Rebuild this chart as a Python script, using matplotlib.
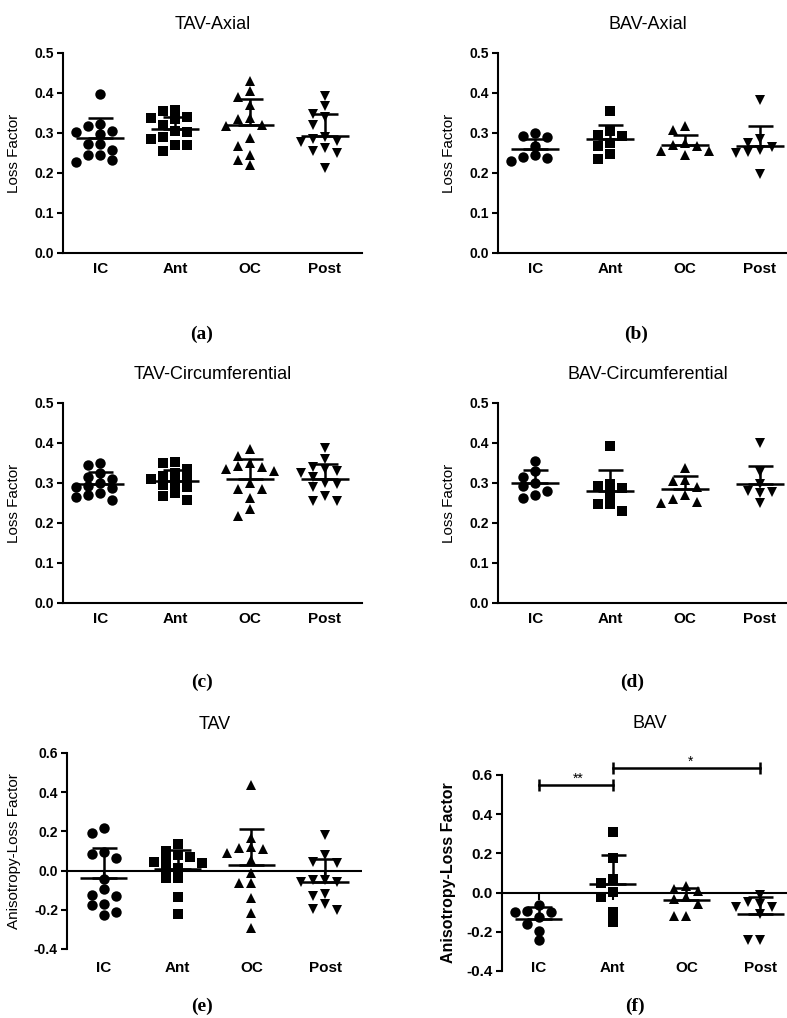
import numpy as np
import matplotlib.pyplot as plt
from matplotlib.markers import TICKDOWN

plt.rcParams['font.family'] = ['Liberation Sans', 'DejaVu Sans']
plt.rcParams['axes.unicode_minus'] = False

groups = ['IC', 'Ant', 'OC', 'Post']
markers = ['o', 's', '^', 'v']
msizes = [7.5, 6.5, 7, 7]

# (a) TAV-Axial
tav_axial = [
    [0.397, 0.323, 0.318, 0.304, 0.302, 0.298, 0.273, 0.273, 0.258, 0.246, 0.246, 0.233, 0.227],
    [0.358, 0.355, 0.340, 0.337, 0.335, 0.320, 0.305, 0.303, 0.290, 0.285, 0.271, 0.270, 0.256],
    [0.429, 0.404, 0.390, 0.371, 0.337, 0.335, 0.321, 0.318, 0.287, 0.267, 0.246, 0.233, 0.219],
    [0.392, 0.367, 0.340, 0.348, 0.320, 0.290, 0.285, 0.280, 0.278, 0.262, 0.255, 0.250, 0.212],
]
tav_axial_mean = [0.288, 0.310, 0.320, 0.293]
tav_axial_sd = [0.049, 0.030, 0.066, 0.055]

# (b) BAV-Axial
bav_axial = [
    [0.300, 0.292, 0.290, 0.268, 0.245, 0.240, 0.237, 0.230],
    [0.354, 0.305, 0.296, 0.293, 0.275, 0.267, 0.248, 0.235],
    [0.318, 0.308, 0.275, 0.271, 0.267, 0.254, 0.254, 0.246],
    [0.382, 0.285, 0.275, 0.265, 0.258, 0.252, 0.250, 0.198],
]
bav_axial_mean = [0.259, 0.285, 0.271, 0.268]
bav_axial_sd = [0.026, 0.036, 0.025, 0.049]

# (c) TAV-Circumferential
tav_circ = [
    [0.350, 0.346, 0.325, 0.315, 0.310, 0.300, 0.292, 0.290, 0.287, 0.275, 0.270, 0.266, 0.257],
    [0.352, 0.350, 0.335, 0.325, 0.318, 0.313, 0.310, 0.300, 0.295, 0.290, 0.275, 0.268, 0.258],
    [0.385, 0.368, 0.350, 0.343, 0.340, 0.335, 0.330, 0.300, 0.286, 0.285, 0.262, 0.236, 0.217],
    [0.388, 0.360, 0.340, 0.335, 0.330, 0.325, 0.315, 0.300, 0.298, 0.290, 0.268, 0.255, 0.254],
]
tav_circ_mean = [0.298, 0.306, 0.310, 0.310]
tav_circ_sd = [0.029, 0.027, 0.050, 0.037]

# (d) BAV-Circumferential
bav_circ = [
    [0.354, 0.330, 0.315, 0.300, 0.292, 0.280, 0.269, 0.262],
    [0.392, 0.297, 0.292, 0.288, 0.272, 0.248, 0.247, 0.229],
    [0.337, 0.307, 0.306, 0.290, 0.270, 0.261, 0.252, 0.250],
    [0.400, 0.328, 0.298, 0.280, 0.278, 0.276, 0.250],
]
bav_circ_mean = [0.301, 0.280, 0.286, 0.298]
bav_circ_sd = [0.032, 0.052, 0.031, 0.045]

# (e) TAV anisotropy
tav_aniso = [
    [0.215, 0.190, 0.097, 0.085, 0.063, -0.044, -0.095, -0.124, -0.129, -0.170, -0.175, -0.212, -0.225],
    [0.134, 0.100, 0.080, 0.071, 0.054, 0.046, 0.040, 0.012, 0.005, -0.036, -0.039, -0.136, -0.222],
    [0.439, 0.164, 0.119, 0.114, 0.110, 0.088, 0.054, -0.010, -0.061, -0.064, -0.140, -0.214, -0.293],
    [0.181, 0.080, 0.046, 0.040, -0.050, -0.047, -0.056, -0.060, -0.120, -0.132, -0.170, -0.197, -0.200],
]
tav_aniso_mean = [-0.040, 0.010, 0.030, -0.060]
tav_aniso_sd = [0.157, 0.095, 0.182, 0.119]

# (f) BAV anisotropy
bav_aniso = [
    [-0.063, -0.092, -0.100, -0.100, -0.126, -0.160, -0.194, -0.241],
    [0.308, 0.175, 0.070, 0.048, 0.002, -0.024, -0.097, -0.151],
    [0.036, 0.020, 0.010, -0.020, -0.032, -0.058, -0.121, -0.121],
    [-0.010, -0.049, -0.060, -0.071, -0.071, -0.109, -0.241, -0.241],
]
bav_aniso_mean = [-0.135, 0.042, -0.037, -0.109]
bav_aniso_sd = [0.060, 0.150, 0.061, 0.089]

# significance brackets for (f): (from, to, height, label)
sig_pairs = [(1, 2, 0.551, '**'), (2, 4, 0.638, '*')]

W, H = 787, 1018


def swarm(ax, xc, vals, step=12.0, dmin=8.5):
    """simple beeswarm, offsets in data units"""
    vals = np.asarray(vals)
    p0 = ax.transData.transform((0, 0))
    p1 = ax.transData.transform((1, 1))
    xs, ys = p1[0] - p0[0], p1[1] - p0[1]
    placed = []
    offs = np.zeros(len(vals))
    for i in np.argsort(vals)[::-1]:
        y = vals[i] * ys
        for k in [0, -1, 1, -2, 2, -3, 3]:
            x = k * step
            if all((x - px) ** 2 + (y - py) ** 2 >= dmin * dmin for px, py in placed):
                break
        placed.append((x, y))
        offs[i] = x / xs
    return xc + offs


def panel(rect_px, title, data, means, sds, ylim, ystep, ylabel, aniso=False, bold_ylab=False,
          title_pad=17, xpad=6.5, ytick_fs=10):
    l, t, w, h = rect_px
    ax = fig.add_axes([l / W, 1 - (t + h) / H, w / W, h / H])
    ax.set_xlim(0.5, 4.5)
    ax.set_ylim(*ylim)
    x = np.arange(1, 5)

    for i in range(4):
        xs = swarm(ax, x[i], data[i])
        ax.plot(xs, data[i], ls='none', marker=markers[i], ms=msizes[i], color='black', mew=0, zorder=3)

    ax.hlines(means, x - 0.32, x + 0.32, colors='black', lw=1.8, zorder=4)
    ax.errorbar(x, means, yerr=[np.zeros(4), sds], fmt='none', ecolor='black',
                elinewidth=1.8, capsize=9, capthick=1.8, zorder=4)

    ax.spines['top'].set_visible(False)
    ax.spines['right'].set_visible(False)
    ax.spines['left'].set_linewidth(1.5)
    ax.spines['bottom'].set_linewidth(1.5)
    ax.set_yticks(np.arange(ylim[0], ylim[1] + 1e-9, ystep))
    ax.yaxis.set_major_formatter(plt.FormatStrFormatter('%.1f'))
    ax.tick_params(axis='y', direction='out', length=4.5, width=1.5, pad=2, labelsize=ytick_fs)
    ax.set_xticks(x)
    ax.set_xticklabels(groups)
    ax.tick_params(axis='x', length=0, pad=xpad, labelsize=11)
    for lab in ax.get_xticklabels() + ax.get_yticklabels():
        lab.set_fontweight('bold')

    if aniso:
        ax.spines['bottom'].set_visible(False)
        ax.axhline(0, color='black', lw=1.5, zorder=2)
        ax.plot(x, np.zeros(4), ls='none', marker=TICKDOWN, ms=5, mew=1.5, color='black', zorder=1)

    ax.set_ylabel(ylabel, fontsize=11.5 if bold_ylab else 11,
                  fontweight='bold' if bold_ylab else 'normal')
    lab_x = 21 if l < 300 else 456
    ax.yaxis.set_label_coords((lab_x - l) / w, 0.5)
    ax.set_title(title, fontsize=13, pad=title_pad)
    return ax


fig = plt.figure(figsize=(W / 100, H / 100), dpi=100)

panel((63, 53, 299, 200), 'TAV-Axial', tav_axial, tav_axial_mean, tav_axial_sd, (0, 0.5), 0.1, 'Loss Factor')
panel((498, 53, 299, 200), 'BAV-Axial', bav_axial, bav_axial_mean, bav_axial_sd, (0, 0.5), 0.1, 'Loss Factor')
panel((63, 403, 299, 200), 'TAV-Circumferential', tav_circ, tav_circ_mean, tav_circ_sd, (0, 0.5), 0.1, 'Loss Factor')
panel((498, 403, 299, 200), 'BAV-Circumferential', bav_circ, bav_circ_mean, bav_circ_sd, (0, 0.5), 0.1, 'Loss Factor')
panel((67, 753, 295, 196), 'TAV', tav_aniso, tav_aniso_mean, tav_aniso_sd, (-0.4, 0.6), 0.2,
      'Anisotropy-Loss Factor', aniso=True, xpad=9)
axf = panel((502, 775, 295, 196), 'BAV', bav_aniso, bav_aniso_mean, bav_aniso_sd, (-0.4, 0.6), 0.2,
            'Anisotropy-Loss Factor', aniso=True, bold_ylab=True, title_pad=33.5, xpad=-7, ytick_fs=11)

# significance brackets
for x0, x1, yb, lab in sig_pairs:
    axf.plot([x0, x1], [yb, yb], color='black', lw=1.8, marker='|', ms=9, mew=1.8, clip_on=False)
    axf.text((x0 + x1) / 2 + (0.03 if lab == '**' else 0.05), yb + 0.03, lab, ha='center', va='center',
             fontsize=10, clip_on=False)

# panel letters
letters = [('(a)', 202, 334), ('(b)', 636, 334), ('(c)', 202, 682), ('(d)', 632, 682),
           ('(e)', 202, 1006), ('(f)', 635, 1006)]
for s, lx, ly in letters:
    fig.text(lx / W, 1 - ly / H, s, ha='center', va='center', family='Liberation Serif',
             fontsize=14, fontweight='bold')

fig.savefig('out.png', dpi=100)
